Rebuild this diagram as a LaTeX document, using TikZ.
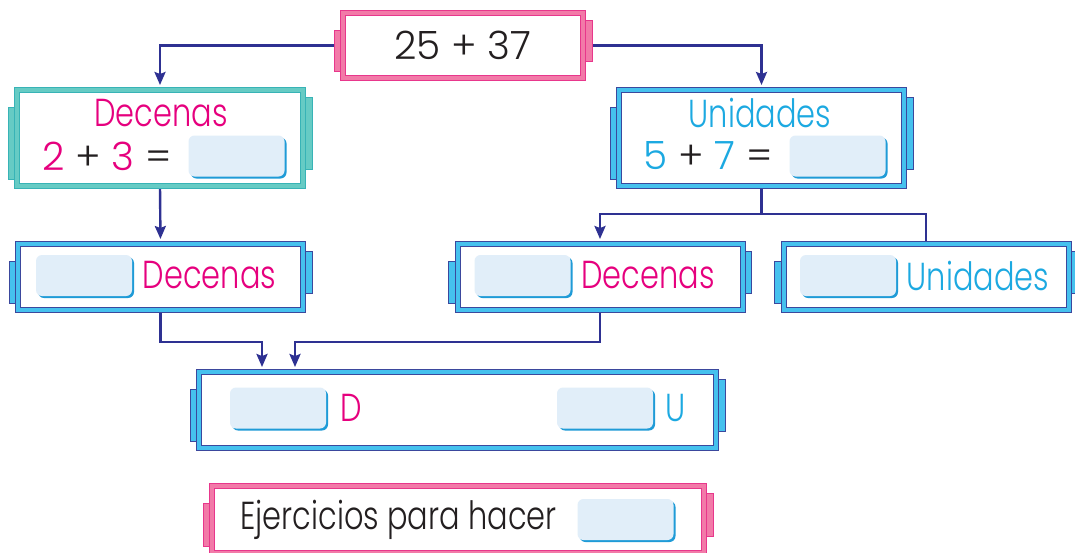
\documentclass[tikz,border=0pt]{standalone}
\usepackage{fontspec}
\setmainfont{Poppins}[UprightFont={* Light}]
\newfontfamily\wordfont{Poppins}[UprightFont={* Light},FakeStretch=0.78]
\usepackage{xcolor}
\usepackage{tikz}
\usetikzlibrary{positioning,arrows.meta,backgrounds,shadows}

\definecolor{navy}{HTML}{2E3192}
\definecolor{ink}{HTML}{231F20}
\definecolor{decpink}{HTML}{E6007E}
\definecolor{unicyan}{HTML}{1CA9E1}
\definecolor{pinkedge}{HTML}{E8378C}
\definecolor{pinkband}{HTML}{F27AA8}
\definecolor{tealedge}{HTML}{38B3B6}
\definecolor{tealband}{HTML}{66CBC4}
\definecolor{blueedge}{HTML}{3B489D}
\definecolor{blueband}{HTML}{45C1EE}
\definecolor{blankfill}{HTML}{E1EEF9}
\definecolor{blankedge}{HTML}{1F9BD7}

\begin{document}
\begin{tikzpicture}[x=.5pt,y=-.5pt,
        every node/.style={text=ink,font=\fontsize{19.5}{23}\selectfont},
        frame/.style={draw=#1edge,double=#1band,double distance=2pt,line width=.5pt,
            fill=white,inner sep=0pt,outer sep=0pt},
        row/.style={minimum width=142.5pt,minimum height=33pt},
        tab/.style={draw=#1edge,fill=#1band,line width=.5pt},
        blank/.style={rounded corners=3pt,fill=blankfill,minimum width=48pt,minimum height=20.5pt,
            inner sep=0pt,drop shadow={shadow xshift=1pt,shadow yshift=-1pt,fill=blankedge,opacity=1}},
        word/.style={inner sep=0pt,font=\fontsize{19.5}{23}\wordfont},
        sumtext/.style={inner sep=0pt},
        link/.style={draw=navy,line width=1.2pt},
        arrow/.style={link,-{Stealth[length=6.5pt,width=5.5pt,inset=1pt]},shorten >=2.5pt}]
    \useasboundingbox (0,0) rectangle (1075,552);

    % frames
    \node (sum) [frame=pink,minimum width=120pt,minimum height=32.5pt] at (463,45.5) {25 + 37};
    \node (dec) [frame=teal,minimum width=143pt,minimum height=48pt] at (160,138) {};
    \node (uni) [frame=blue,minimum width=142.5pt,minimum height=48pt] at (761.5,138) {};
    \node (decl) [frame=blue,row] at (160.5,277) {};
    \node (decm) [frame=blue,row] at (600,277) {};
    \node (unir) [frame=blue,row] at (926,277) {};
    \node (total) [frame=blue,minimum width=258.5pt,minimum height=38pt] at (457.5,410) {};
    \node (todo) [frame=pink,minimum width=246pt,minimum height=33.5pt] at (458,519.5) {};

    % contents
    \node (dectitle) [word,text=decpink] at (161,113) {Decenas};
    \node (decblank) [blank] at (236.5,156) {};
    \node (decsum) [sumtext,left=8pt of decblank] {\textcolor{decpink}{2} + \textcolor{decpink}{3} =};
    \node (unititle) [word,text=unicyan] at (760,113) {Unidades};
    \node (uniblank) [blank] at (837.5,156) {};
    \node (unisum) [sumtext,left=8pt of uniblank] {\textcolor{unicyan}{5} + \textcolor{unicyan}{7} =};

    \node (declblank) [blank] at (84,275.5) {};
    \node [word,text=decpink,right=5pt of declblank] {Decenas};
    \node (decmblank) [blank] at (522.5,275.5) {};
    \node [word,text=decpink,right=5pt of decmblank] {Decenas};
    \node (unirblank) [blank] at (848,275.5) {};
    \node [word,text=unicyan,right=5pt of unirblank] {Unidades};

    \node (totd) [blank] at (278,408) {};
    \node [word,text=decpink,right=7pt of totd] {D};
    \node (totu) [blank] at (605,408) {};
    \node [word,text=unicyan,right=6pt of totu] {U};

    \node (todoblank) [blank] at (625.5,519.5) {};
    \node [word,left=10pt of todoblank] {Ejercicios para hacer};

    \coordinate (split) at (uni.south |- 0,214);
    \coordinate (joinl) at (262,342);
    \coordinate (joinr) at (295,342);

    \begin{scope}[on background layer]
        \draw[arrow] (sum.west) -| (dec.north);
        \draw[arrow] (sum.east) -| (uni.north);
        \draw[arrow] (dec.south) -- (decl.north);
        \draw[arrow] (uni.south) -- (split) -| (decm.north);
        \draw[link] (split) -| (unir.north);
        \draw[arrow] (decl.south) |- (joinl) -- (joinl |- total.north);
        \draw[arrow] (decm.south) |- (joinr) -- (joinr |- total.north);
        % side tabs
        \foreach \n/\c in {sum/pink,dec/teal,uni/blue,decl/blue,decm/blue,unir/blue,total/blue,todo/pink} {
            \draw[tab=\c] ([xshift=-4.5pt,yshift=3.5pt]\n.south west) rectangle ([yshift=-8.5pt]\n.north west);
            \draw[tab=\c] ([yshift=8.5pt]\n.south east) rectangle ([xshift=4.5pt,yshift=-3.5pt]\n.north east);
        }
    \end{scope}
\end{tikzpicture}
\end{document}
